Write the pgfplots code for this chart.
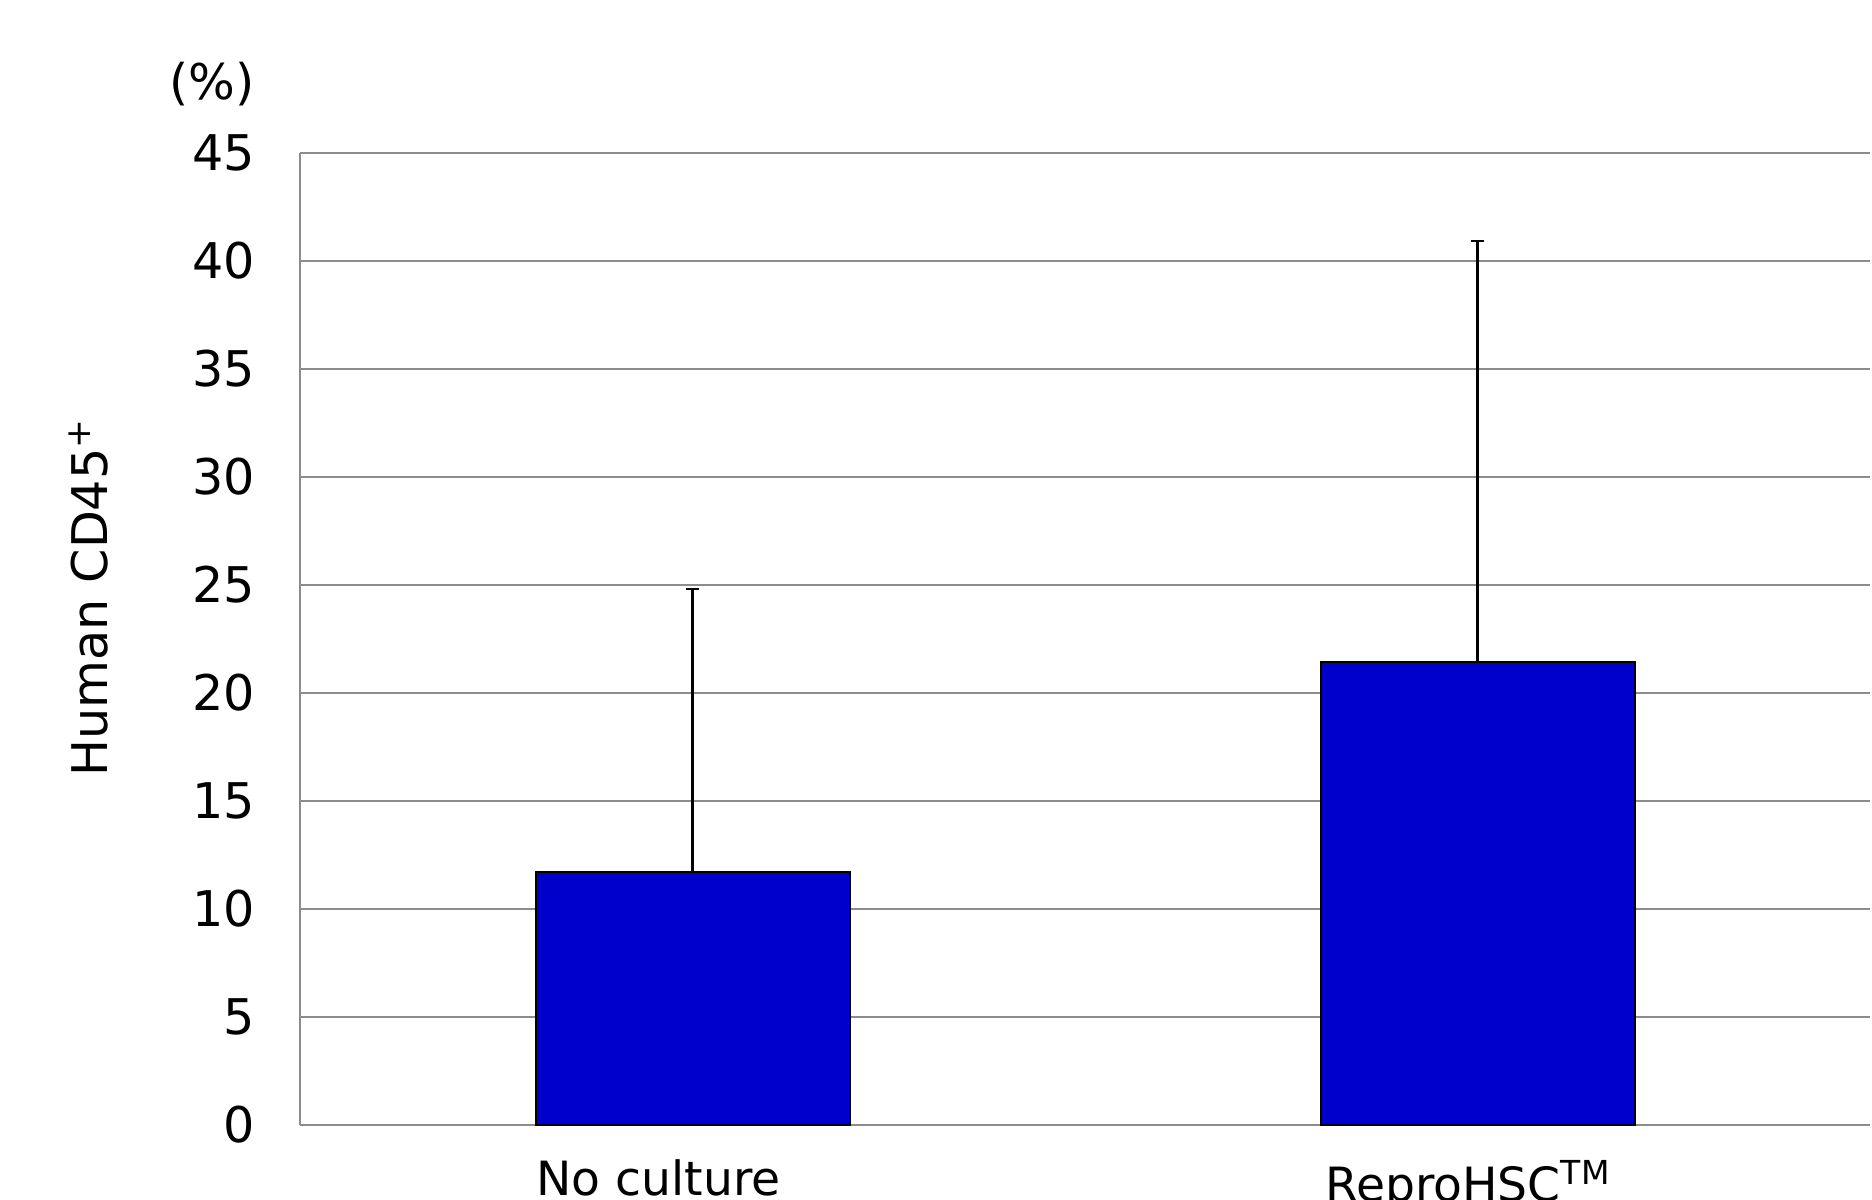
\documentclass[border=0pt]{standalone}
\usepackage{pgfplots}
\pgfplotsset{compat=1.18}
\usepackage{fontspec}
\setmainfont{DejaVu Sans}
\definecolor{barblue}{HTML}{0000CC}
\definecolor{gridgray}{HTML}{8C8C8C}
\begin{document}
\fontsize{12.3pt}{14pt}\selectfont
\begin{tikzpicture}
\begin{axis}[
  at={(75pt,18.625pt)}, anchor=south west,
  scale only axis, width=392.5pt, height=243pt,
  xmin=-0.5, xmax=1.5, ymin=0, ymax=45,
  xtick={0,1},
  xticklabels={No culture\hspace*{17pt}, ReproHSC\textsuperscript{TM}\hspace*{4.5pt}},
  ytick={0,5,...,45},
  axis x line*=bottom, axis y line*=left,
  axis line style={gridgray, line width=0.5pt},
  major tick length=0pt,
  ymajorgrids, grid style={gridgray, line width=0.5pt},
  /pgf/number format/assume math mode=true,
  yticklabel style={font=\fontsize{12.3pt}{14pt}\selectfont, anchor=east, inner sep=0pt, xshift=-11pt},
  xticklabel style={font=\fontsize{11.8pt}{14pt}\selectfont, anchor=north, inner sep=0pt, yshift=-8.7pt},
  clip=false,
]
\addplot[ybar, bar width=0.4, fill=barblue, draw=black, line width=0.5pt,
  error bars/.cd, y dir=plus, y explicit,
  error bar style={black, line width=0.6pt},
  error mark options={rotate=90, mark size=1.6pt, line width=0.6pt, black}]
  table[x=x, y=y, y error=e] {
  x y e
  0 11.7 13.1
  1 21.4 19.5
};
\end{axis}
\node[anchor=center, inner sep=0pt] at (53pt,278.75pt) {(\%)};
\node[anchor=base, rotate=90, inner sep=0pt] at (27pt,150.5pt) {Human CD45\textsuperscript{+}};
\pgfresetboundingbox
\path[use as bounding box] (0,0) rectangle (468pt,299.75pt);
\end{tikzpicture}
\end{document}
